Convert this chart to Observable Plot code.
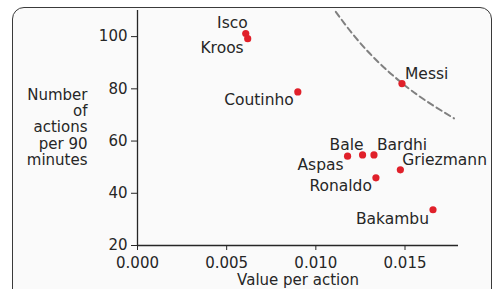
<!DOCTYPE html>
<html>
<head>
<meta charset="utf-8">
<script src="https://cdn.jsdelivr.net/npm/d3@7"></script>
<script src="https://cdn.jsdelivr.net/npm/@observablehq/plot@0.6"></script>
<style>
  html, body { margin: 0; padding: 0; background: #ffffff; overflow: hidden; width: 498px; height: 289px; }
  #card { position: absolute; left: 12px; top: 7px; width: 478px; height: 300px; border: 1.5px solid #3a3a3a; border-radius: 12px; background: #fafafa; }
  #chart { position: absolute; left: 0; top: 0; }
  svg { background: transparent !important; }
</style>
</head>
<body>
<div id="card"></div>
<div id="chart"></div>
<script>
// Data
const players = ["Isco", "Kroos", "Coutinho", "Messi", "Aspas", "Bale", "Bardhi", "Griezmann", "Ronaldo", "Bakambu"];
const valuePerAction = [0.00607, 0.00618, 0.00899, 0.01483, 0.01178, 0.01262, 0.01326, 0.01474, 0.01337, 0.01657];
const actionsPer90 = [101.2, 99.2, 78.8, 82.0, 54.2, 54.7, 54.7, 49.0, 45.9, 33.7];

// Dashed iso-value curve
const curveX = [0.01112, 0.01197, 0.01292, 0.01382, 0.01478, 0.01607, 0.01775];
const curveY = [109.5, 101.8, 94.3, 88.2, 82.5, 75.9, 68.7];

const xTicks = [0, 0.005, 0.010, 0.015];
const yTicks = [20, 40, 60, 80, 100];
const xLabel = "Value per action";
const yLabel = "Number\nof\nactions\nper 90\nminutes";

const points = players.map((p, i) => ({name: p, x: valuePerAction[i], y: actionsPer90[i]}));
const curve = curveX.map((x, i) => ({x, y: curveY[i]}));

// label placement (style, not data)
const place = {
  Isco: ["end", 2, -10],
  Kroos: ["end", -4, 9],
  Coutinho: ["end", -4, 8],
  Messi: ["start", 3, -10],
  Aspas: ["end", -4, 9],
  Bale: ["end", 1, -10],
  Bardhi: ["start", 3, -10],
  Griezmann: ["start", 2, -10],
  Ronaldo: ["end", -4, 8],
  Bakambu: ["end", -4, 9]
};

const ink = "#262626";
const labelMarks = points.map(d => {
  const [anchor, dx, dy] = place[d.name];
  return Plot.text([d], {x: "x", y: "y", text: "name", textAnchor: anchor, dx, dy, fill: ink, fontSize: 15.5});
});

const chart = Plot.plot({
  width: 498,
  height: 289,
  marginLeft: 137,
  marginRight: 40,
  marginTop: 10,
  marginBottom: 44,
  style: {fontFamily: "DejaVu Sans", fontSize: "15px", color: ink, background: "transparent"},
  x: {domain: [0, 0.018]},
  y: {domain: [20, 110]},
  marks: [
    Plot.line(curve, {x: "x", y: "y", stroke: "#808080", strokeWidth: 2, strokeDasharray: "6,4", curve: "natural"}),
    Plot.ruleX([0], {stroke: ink, strokeWidth: 1.3}),
    Plot.ruleY([20], {stroke: ink, strokeWidth: 1.3}),
    Plot.axisX({ticks: xTicks, tickFormat: d3.format(".3f"), tickSize: 5, tickPadding: 7, label: null, fontSize: 15, stroke: ink, fill: ink}),
    Plot.axisY({ticks: yTicks, tickSize: 6, tickPadding: 4, label: null, fontSize: 15, stroke: ink, fill: ink}),
    Plot.text([xLabel], {frameAnchor: "bottom", lineAnchor: "middle", dy: 35, fontSize: 15, fill: ink}),
    Plot.text([yLabel], {frameAnchor: "left", lineAnchor: "middle", dx: -50, dy: -1, textAnchor: "end", lineHeight: 1.09, fontSize: 15, fill: ink}),
    Plot.dot(points, {x: "x", y: "y", r: 3.6, fill: "#e0202a", stroke: "none"}),
    ...labelMarks
  ]
});
document.getElementById("chart").appendChild(chart);
</script>
</body>
</html>
